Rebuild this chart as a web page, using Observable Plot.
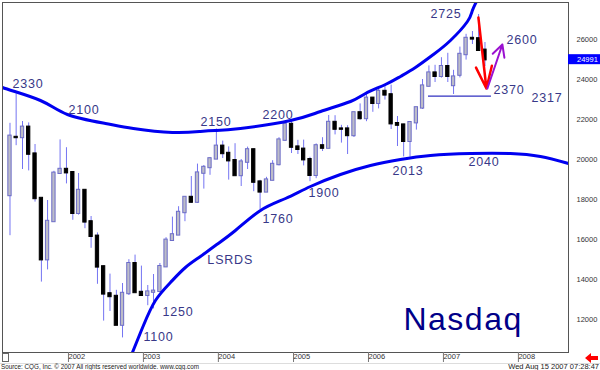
<!DOCTYPE html>
<html><head><meta charset="utf-8">
<script src="https://cdn.jsdelivr.net/npm/d3@7"></script>
<script src="https://cdn.jsdelivr.net/npm/@observablehq/plot@0.6"></script>
<style>
body{margin:0;background:#fff;}
svg{display:block;font-family:"Liberation Sans",Arial,sans-serif;}
.anno text{letter-spacing:0.8px;}
.title text{letter-spacing:1.5px;}
</style>
</head><body><div id="chart"></div><script>
// Monthly Nasdaq Composite candles (index points; axis shows x10 as in CQG)
const months = [
"2001-04","2001-05","2001-06","2001-07","2001-08","2001-09","2001-10","2001-11","2001-12",
"2002-01","2002-02","2002-03","2002-04","2002-05","2002-06","2002-07","2002-08","2002-09","2002-10","2002-11","2002-12",
"2003-01","2003-02","2003-03","2003-04","2003-05","2003-06","2003-07","2003-08","2003-09","2003-10","2003-11","2003-12",
"2004-01","2004-02","2004-03","2004-04","2004-05","2004-06","2004-07","2004-08","2004-09","2004-10","2004-11","2004-12",
"2005-01","2005-02","2005-03","2005-04","2005-05","2005-06","2005-07","2005-08","2005-09","2005-10","2005-11","2005-12",
"2006-01","2006-02","2006-03","2006-04","2006-05","2006-06","2006-07","2006-08","2006-09","2006-10","2006-11","2006-12",
"2007-01","2007-02","2007-03","2007-04","2007-05","2007-06","2007-07","2007-08"];
const opens = [
1820,2110,2110,2161,2027,1805,1499,1690,1931,
1950,1934,1731,1845,1688,1616,1463,1328,1315,1172,1330,1479,
1335,1321,1337,1341,1464,1596,1623,1735,1810,1787,1932,1960,
2003,2066,2030,1994,1920,1987,2048,1887,1838,1897,1975,2097,
2175,2062,2051,1999,1921,2068,2057,2185,2152,2152,2120,2233,
2205,2306,2281,2340,2323,2179,2172,2091,2184,2258,2367,2432,
2416,2464,2370,2422,2525,2605,2603,2546];
const highs = [
2181,2328,2190,2183,2075,1806,1795,1941,2098,
2059,1935,1930,1847,1715,1633,1468,1427,1346,1380,1499,1522,
1467,1370,1425,1480,1609,1712,1764,1812,1915,1977,1970,2009,
2153,2092,2063,2079,2000,2062,2052,1896,1911,1994,2109,2191,
2191,2096,2097,2011,2078,2109,2220,2219,2171,2169,2235,2278,
2332,2310,2353,2375,2372,2215,2176,2186,2260,2400,2468,2471,
2509,2531,2446,2562,2626,2640,2725,2585];
const lows = [
1619,2069,1950,1943,1787,1387,1448,1689,1930,
1878,1696,1722,1654,1556,1376,1192,1240,1172,1108,1320,1334,
1316,1269,1253,1338,1464,1596,1620,1689,1780,1780,1852,1921,
2002,2005,1897,1919,1865,1950,1839,1750,1836,1894,1968,2091,
2030,2025,1968,1889,1904,2040,2057,2123,2082,2025,2110,2196,
2189,2236,2253,2297,2150,2065,2013,2012,2147,2250,2362,2385,
2407,2385,2325,2408,2497,2575,2545,2465];
const closes = [
2116,2110,2161,2027,1805,1499,1690,1931,1950,
1934,1731,1845,1688,1616,1463,1328,1315,1172,1330,1479,1335,
1321,1337,1341,1464,1596,1623,1735,1810,1787,1932,1960,2003,
2066,2030,1994,1920,1987,2048,1887,1838,1897,1975,2097,2175,
2062,2051,1999,1921,2068,2057,2185,2152,2152,2120,2233,2205,
2306,2281,2340,2323,2179,2172,2091,2184,2258,2367,2432,2416,
2464,2416,2412,2525,2605,2603,2546,2499];
const lastPrice = 2499.1;

const yearTicks = [2002,2003,2004,2005,2006,2007,2008];
const priceTicks = [1200,1400,1600,1800,2000,2200,2400,2600];

// Hand-drawn arcs (decimal year, index value)
const upperArcT = [2001.10,2001.147,2001.653,2002.013,2002.52,2002.893,2003.413,2003.787,2003.987,2004.32,2004.987,2005.387,2005.787,2005.987,2006.253,2006.453,2006.653,2006.893,2007.12,2007.347,2007.413,2007.48,2007.54];
const upperArcV = [2385,2360,2295,2225,2180,2155,2135,2140,2145,2155,2195,2240,2290,2330,2375,2415,2460,2525,2595,2690,2745,2800,2860];
const lowerArcT = [2002.787,2002.88,2003.027,2003.187,2003.387,2003.587,2003.787,2003.987,2004.253,2004.587,2004.92,2005.253,2005.653,2006.053,2006.453,2006.853,2007.387,2007.92,2008.32,2008.693];
const lowerArcV = [945,1035,1170,1295,1385,1460,1515,1570,1645,1745,1805,1865,1925,1970,2000,2020,2030,2030,2015,1980];

// 2317 support line
const supportT = [2006.827, 2007.667];
const supportV = 2317;

// arrows
const redArrow = {t1: 2007.493, v1: 2710, t2: 2007.6, v2: 2355};
const purpleArrow = {t1: 2007.613, v1: 2355, t2: 2007.813, v2: 2575};

// annotation labels
const labelText = ["2330","2100","2150","2200","2725","2600","2370","2317","2013","2040","1900","1760","LSRDS","1250","1100"];
const labelT = [2001.28,2002.027,2003.787,2004.613,2006.853,2007.867,2007.693,2008.2,2006.347,2007.36,2005.227,2004.613,2003.88,2003.28,2003.027];
const labelV = [2380,2250,2190,2225,2730,2600,2350,2310,1945,1990,1835,1705,1500,1240,1115];

const sourceText = "Source: CQG, Inc. \u00a9 2007 All rights reserved worldwide. www.cqg.com";
const stampText = "Wed Aug 15 2007 07:28:47";
const titleText = "Nasdaq";
const titleT = 2006.493, titleV = 1200;

function tDate(t){const y=Math.floor(t);const a=Date.UTC(y,0,1),b=Date.UTC(y+1,0,1);return new Date(a+(t-y)*(b-a));}

const candles = months.map((m,i)=>{
  const d = new Date(m+"-01T00:00:00Z");
  return {date:d, d1:d3.utcDay.offset(d,-8), d2:d3.utcDay.offset(d,8),
    open:opens[i], high:highs[i], low:lows[i], close:closes[i], up: closes[i] > opens[i]};
});
const upperArc = upperArcT.map((t,i)=>({date:tDate(t), v:upperArcV[i]}));
const lowerArc = lowerArcT.map((t,i)=>({date:tDate(t), v:lowerArcV[i]}));
const labels = labelText.map((s,i)=>({text:s, date:tDate(labelT[i]), v:labelV[i]}));
const arrowOpts = {x1:d=>tDate(d.t1), y1:"v1", x2:d=>tDate(d.t2), y2:"v2"};

const chart = Plot.plot({
  width: 600, height: 370,
  marginLeft: 2, marginRight: 32, marginTop: 2, marginBottom: 18,
  x: {type:"utc", domain:[tDate(2001.1467), tDate(2008.6933)]},
  y: {domain:[1035, 2785]},
  style: {background:"#fff", color:"#333"},
  marks: [
    Plot.ruleX(candles, {x:"date", y1:"low", y2:"high", stroke:"#7474f2", strokeWidth:1}),
    Plot.rect(candles, {x1:"d1", x2:"d2", y1:d=>Math.min(d.open,d.close), y2:d=>Math.max(d.open,d.close),
      fill:d=>d.up?"#bcbcc8":"#000", stroke:d=>d.up?"#6c6cc8":"#000", strokeWidth:1, insetTop:-0.7, insetBottom:-0.7}),
    Plot.line(upperArc, {x:"date", y:"v", stroke:"#0000f0", strokeWidth:3, curve:"natural", clip:true}),
    Plot.line(lowerArc, {x:"date", y:"v", stroke:"#0000f0", strokeWidth:3, curve:"natural", clip:true}),
    Plot.ruleY([supportV], {x1:tDate(supportT[0]), x2:tDate(supportT[1]), stroke:"#3030c0", strokeWidth:1.2}),
    Plot.arrow([redArrow], {...arrowOpts, stroke:"#ff0000", strokeWidth:2.5, headLength:14, headAngle:40}),
    Plot.arrow([purpleArrow], {...arrowOpts, stroke:"#9a10d0", strokeWidth:2, headLength:10, headAngle:55}),
    Plot.text(labels, {x:"date", y:"v", text:"text", textAnchor:"start", fill:"#383888", fontSize:12.5, className:"anno"}),
    Plot.text([titleText], {x:tDate(titleT), y:titleV, text:d=>d, textAnchor:"start", fill:"#000088", fontSize:32, className:"title"}),
    Plot.frame({stroke:"#555"}),
    Plot.axisY({ticks:priceTicks, anchor:"right", tickSize:0, tickPadding:8, tickFormat:d=>String(d*10), fontSize:7.5}),
    Plot.axisX({ticks:yearTicks.map(y=>new Date(Date.UTC(y,0,1))), tickSize:10, tickPadding:-9, tickFormat:d3.utcFormat("%Y"),
      textAnchor:"start", dx:2, fontSize:7.5, stroke:"#777"})
  ]
});
document.getElementById("chart").appendChild(chart);

// extras drawn with the chart's own scales / in margins
const svg = d3.select(chart);
const ys = chart.scale("y");
const yb = ys.apply(lastPrice);
svg.append("rect").attr("x",568).attr("y",yb-5).attr("width",32).attr("height",10).attr("fill","#0000ff");
svg.append("text").attr("x",577).attr("y",yb+3).attr("fill","#fff").attr("font-size",7.5).attr("text-anchor","start")
  .text(String(Math.round(lastPrice*10)));
svg.append("line").attr("x1",0).attr("x2",600).attr("y1",363.5).attr("y2",363.5).attr("stroke","#ddd");
svg.append("rect").attr("x",2.5).attr("y",353.5).attr("width",6).attr("height",8).attr("fill","none").attr("stroke","#666");
svg.append("path").attr("d","M585,358 l6,-5 v3 h7 v4 h-7 v3 z").attr("fill","#ff0000");
svg.append("text").attr("x",1).attr("y",369).attr("font-size",7.5).attr("fill","#222").attr("text-anchor","start")
  .attr("textLength",198).attr("lengthAdjust","spacingAndGlyphs").text(sourceText);
svg.append("text").attr("x",599).attr("y",369).attr("font-size",7.5).attr("fill","#222").attr("text-anchor","end").text(stampText);
</script></body></html>
